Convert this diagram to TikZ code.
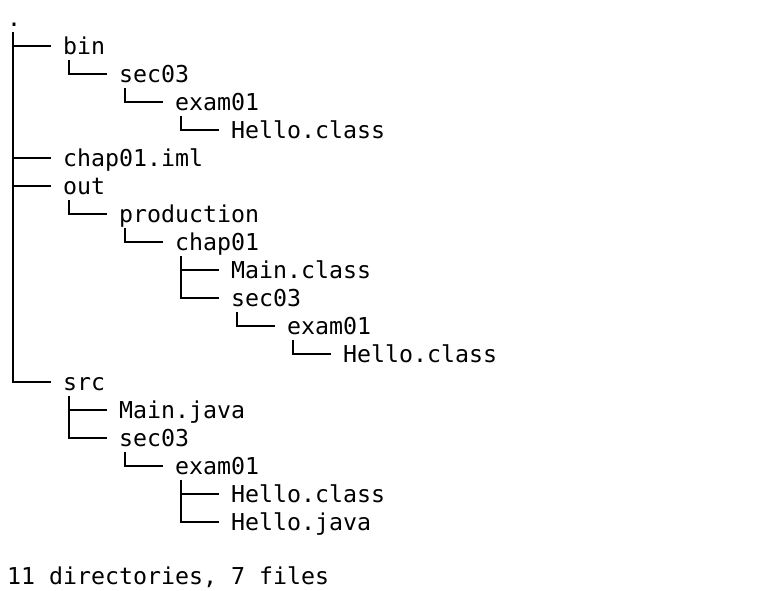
\documentclass[tikz,border=0pt]{standalone}
\usepackage{fontspec}
\setmonofont{DejaVu Sans Mono}
\begin{document}
\begin{tikzpicture}[x=1pt,y=-1pt,
  lbl/.style={anchor=base west, inner sep=0pt, font=\ttfamily\fontsize{23.25}{28}\selectfont},
  tree/.style={line width=1.4pt}]
\useasboundingbox[fill=white] (0,0) rectangle (760,590);
\node[lbl] (root) at (7,26) {.};
\node[lbl] (bin)  at (63,54) {bin};
\node[lbl] (s1)   at (119,82) {sec03};
\node[lbl] (e1)   at (175,110) {exam01};
\node[lbl] (h1)   at (231,138) {Hello.class};
\node[lbl] (iml)  at (63,166) {chap01.iml};
\node[lbl] (out)  at (63,194) {out};
\node[lbl] (prod) at (119,222) {production};
\node[lbl] (ch)   at (175,250) {chap01};
\node[lbl] (mc)   at (231,278) {Main.class};
\node[lbl] (s2)   at (231,306) {sec03};
\node[lbl] (e2)   at (287,334) {exam01};
\node[lbl] (h2)   at (343,362) {Hello.class};
\node[lbl] (src)  at (63,390) {src};
\node[lbl] (mj)   at (119,418) {Main.java};
\node[lbl] (s3)   at (119,446) {sec03};
\node[lbl] (e3)   at (175,474) {exam01};
\node[lbl] (h3)   at (231,502) {Hello.class};
\node[lbl] (hj)   at (231,530) {Hello.java};
\node[lbl] (sum)  at (7,584) {11 directories, 7 files};
\foreach \p/\c in {root/bin, bin/s1, s1/e1, e1/h1, root/iml, root/out, out/prod, prod/ch, ch/mc, ch/s2, s2/e2, e2/h2, root/src, src/mj, src/s3, s3/e3, e3/h3, e3/hj}
  \draw[tree] ([xshift=6pt,yshift=-6pt]\p.base west) |- ([xshift=-12pt,yshift=8pt]\c.base west);
\end{tikzpicture}
\end{document}
